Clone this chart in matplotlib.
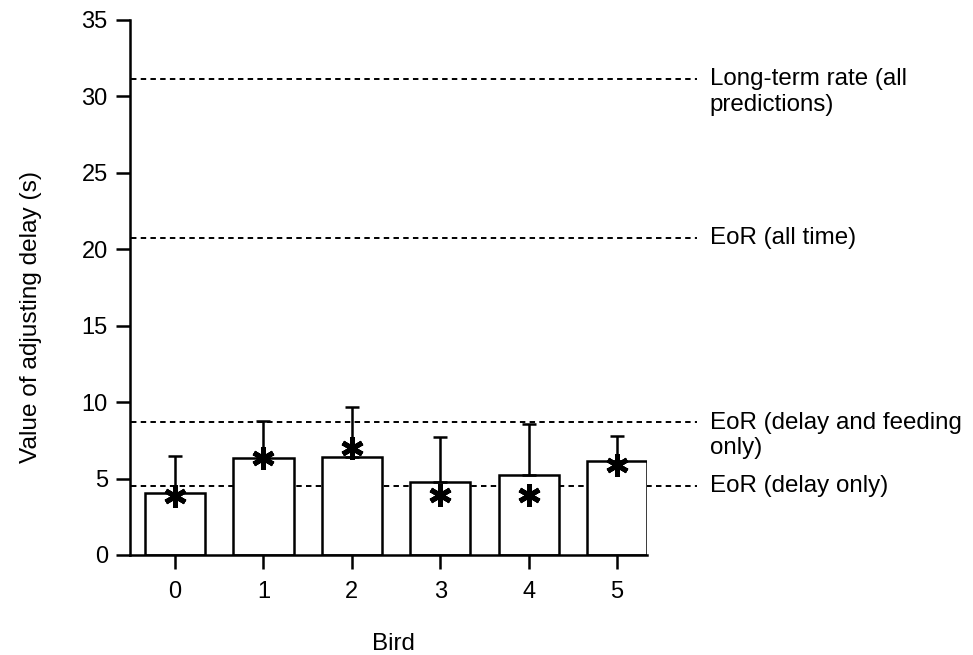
import matplotlib
matplotlib.use("Agg")
import matplotlib.pyplot as plt
import numpy as np

plt.rcParams['font.family'] = ['Liberation Sans', 'DejaVu Sans']

# data
birds = [0, 1, 2, 3, 4, 5]
bar_means = [4.06, 6.37, 6.43, 4.76, 5.23, 6.13]   # bar heights
err_tops = [6.48, 8.77, 9.66, 7.74, 8.57, 7.78]    # top of each error bar
star_vals = [3.86, 6.33, 6.98, 3.93, 3.93, 5.89]   # asterisk markers

pred_values = [31.15, 20.75, 8.68, 4.53]
pred_labels = ["Long-term rate (all\npredictions)", "EoR (all time)",
               "EoR (delay and feeding\nonly)", "EoR (delay only)"]

fig = plt.figure(figsize=(9.73, 6.55), dpi=100)
ax = fig.add_axes([0.1336, 0.1527, 0.5314, 0.8168])

yerr_up = np.array(err_tops) - np.array(bar_means)
ax.bar(birds, bar_means, width=0.68, color='white', edgecolor='black',
       linewidth=1.8, zorder=2)
ax.errorbar(birds, bar_means, yerr=[np.zeros(len(birds)), yerr_up], fmt='none',
            ecolor='black', elinewidth=1.8, capsize=5, capthick=1.8, zorder=3)
ax.plot(birds, star_vals, linestyle='none', marker=(6, 2, 0), markersize=16,
        markeredgewidth=3.6, color='black', zorder=4)

# dashed prediction lines run past the axis into the label area
for val, lab in zip(pred_values, pred_labels):
    ax.plot([-0.5, 5.9], [val, val], color='black', linewidth=1.4,
            linestyle=(0, (2.8, 2.2)), clip_on=False, zorder=1)
    ax.annotate(lab, xy=(6.05, val), xytext=(0, 7.5), textcoords='offset points',
                ha='left', va='top', fontsize=17.4, linespacing=1.2,
                annotation_clip=False)

ax.set_xlim(-0.51, 5.34)
ax.set_ylim(0, 35)
ax.set_xticks(birds)
ax.set_yticks([0, 5, 10, 15, 20, 25, 30, 35])

for side in ['top', 'right']:
    ax.spines[side].set_visible(False)
for side in ['left', 'bottom']:
    ax.spines[side].set_linewidth(1.8)
ax.tick_params(axis='both', direction='out', length=10, width=1.8, labelsize=17)
ax.tick_params(axis='y', pad=6)
ax.tick_params(axis='x', pad=9)

ax.set_xlabel("Bird", fontsize=17.4)
ax.set_ylabel("Value of adjusting delay (s)", fontsize=17.6)
ax.xaxis.set_label_coords(0.51, -0.146)
ax.yaxis.set_label_coords(-0.17, 0.445)

fig.savefig("out.png", dpi=100)
